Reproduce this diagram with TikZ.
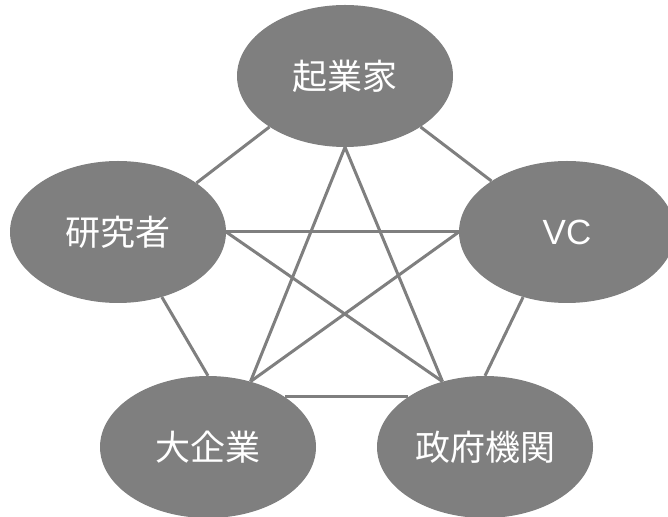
\documentclass[tikz,border=0pt]{standalone}
\usepackage{fontspec}
\setmainfont{Liberation Sans}
\newfontfamily\cjk{Noto Sans CJK JP}
\usetikzlibrary{shapes.geometric,backgrounds}
\definecolor{nodegray}{RGB}{127,127,127}
\begin{document}
\begin{tikzpicture}[x=1pt,y=1pt,
  actor/.style={ellipse,fill=nodegray,draw=none,minimum width=216pt,minimum height=142pt,inner sep=0pt,
    text=white,font=\cjk\fontsize{35}{42}\selectfont},
  link/.style={draw=nodegray,line width=3pt}]
\useasboundingbox (0,0) rectangle (668,516);
\node[actor] (A) at (345,440) {起業家};
\node[actor] (B) at (118,284) {研究者};
\node[actor,font=\fontsize{35}{42}\selectfont] (C) at (567,284) {VC};
\node[actor] (D) at (208,69) {大企業};
\node[actor] (E) at (485,69) {政府機関};
\begin{scope}[on background layer]
\draw[link] (A.214) -- (B.32);
\draw[link] (A.326) -- (C.146);
\draw[link] (A.270) -- (D.57);
\draw[link] (A.270) -- (E.123);
\draw[link] (B.0) -- (C.180);
\draw[link] (B.0) -- (E.123);
\draw[link] (C.180) -- (D.57);
\draw[link] (B.304) -- (D.90);
\draw[link] (C.236) -- (E.90);
\draw[link] (D.33) -- (E.147);
\end{scope}
\end{tikzpicture}
\end{document}
